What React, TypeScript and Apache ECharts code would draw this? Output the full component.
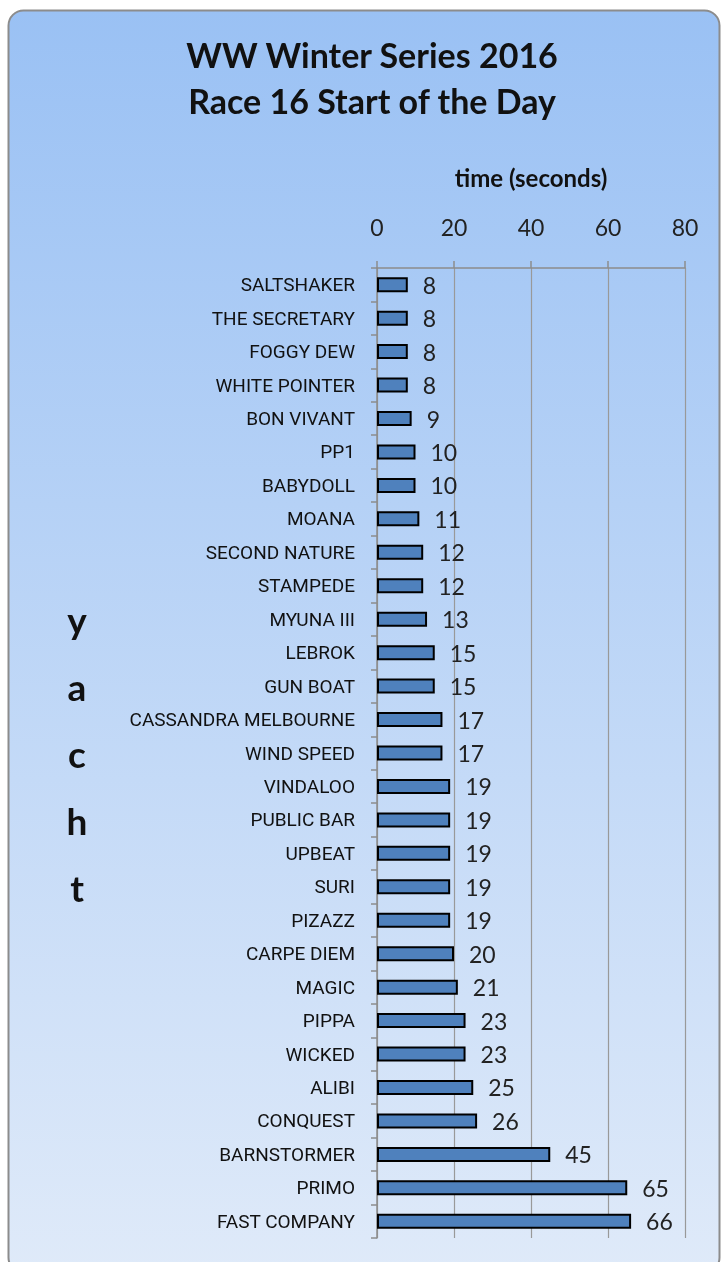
import React, { useEffect, useRef } from "react";
import * as echarts from "echarts";

const yachts = [
  "SALTSHAKER", "THE SECRETARY", "FOGGY DEW", "WHITE POINTER", "BON VIVANT",
  "PP1", "BABYDOLL", "MOANA", "SECOND NATURE", "STAMPEDE", "MYUNA III",
  "LEBROK", "GUN BOAT", "CASSANDRA MELBOURNE", "WIND SPEED", "VINDALOO",
  "PUBLIC BAR", "UPBEAT", "SURI", "PIZAZZ", "CARPE DIEM", "MAGIC", "PIPPA",
  "WICKED", "ALIBI", "CONQUEST", "BARNSTORMER", "PRIMO", "FAST COMPANY",
];
const times = [8, 8, 8, 8, 9, 10, 10, 11, 12, 12, 13, 15, 15, 17, 17, 19, 19, 19, 19, 19, 20, 21, 23, 23, 25, 26, 45, 65, 66];

const titleLines = ["WW Winter Series 2016", "Race 16 Start of the Day"];
const xAxisName = "time (seconds)";
const yAxisName = "yacht";

const FONT = "'Liberation Sans Narrow', 'Roboto', 'Noto Sans', sans-serif";
const FONT2 = "'Lato', 'Noto Sans', sans-serif";

export default function App() {
  const ref = useRef<HTMLDivElement>(null);
  useEffect(() => {
    if (!ref.current) return;
    const chart = echarts.init(ref.current, null, { renderer: "svg" });
    chart.setOption({
      animation: false,
      graphic: [
        {
          type: "rect",
          z: -10,
          silent: true,
          shape: { x: 8.5, y: 10.5, width: 711, height: 1262, r: 15 },
          style: {
            fill: new echarts.graphic.LinearGradient(0, 0, 0, 1, [
              { offset: 0, color: "#9ac1f4" },
              { offset: 1, color: "#dfeaf9" },
            ]),
            stroke: "#8c8c8c",
            lineWidth: 2,
          },
        },
      ],
      title: {
        text: titleLines.join("\n"),
        left: 367,
        textAlign: "center",
        top: 26,
        textStyle: {
          fontFamily: FONT2,
          fontWeight: "bold",
          fontSize: 34,
          lineHeight: 46,
          color: "#111",
        },
      },
      grid: { left: 377, right: 36, top: 268, bottom: 24, containLabel: false },
      xAxis: {
        type: "value",
        position: "top",
        min: 0,
        max: 80,
        interval: 20,
        name: xAxisName,
        nameLocation: "middle",
        nameGap: 79,
        nameTextStyle: { fontFamily: FONT2, fontWeight: "bold", fontSize: 24, color: "#111" },
        axisLine: { show: true, lineStyle: { color: "#8c8c8c", width: 1.5 } },
        axisTick: { show: true, length: 7, lineStyle: { color: "#8c8c8c", width: 1.5 } },
        splitLine: { show: true, lineStyle: { color: "#999", width: 1.2 } },
        axisLabel: { fontFamily: FONT2, fontSize: 23, color: "#222", margin: 30 },
      },
      yAxis: {
        type: "category",
        inverse: true,
        data: yachts,
        name: yAxisName.split("").join("\n"),
        nameLocation: "middle",
        nameGap: 300,
        nameRotate: 0,
        nameTextStyle: {
          fontFamily: FONT2,
          fontWeight: "bold",
          fontSize: 37,
          lineHeight: 67,
          color: "#111",
          align: "center",
          padding: [28, 0, 0, 0],
        },
        axisLine: { show: true, lineStyle: { color: "#8c8c8c", width: 1.5 } },
        axisTick: { show: true, length: 6, lineStyle: { color: "#8c8c8c", width: 1.5 } },
        axisLabel: { fontFamily: FONT, fontSize: 19, color: "#111", margin: 22 },
      },
      series: [
        {
          type: "bar",
          data: times,
          barWidth: 15,
          itemStyle: { color: "#4f81bd", borderColor: "#000", borderWidth: 2 },
          label: {
            show: true,
            position: "right",
            distance: 15,
            fontFamily: FONT2,
            fontSize: 23,
            color: "#222",
          },
        },
      ],
    });
    return () => chart.dispose();
  }, []);
  return (
    <div
      ref={ref}
      style={{ position: "fixed", left: 0, top: 0, width: 721, height: 1262 }}
    />
  );
}
